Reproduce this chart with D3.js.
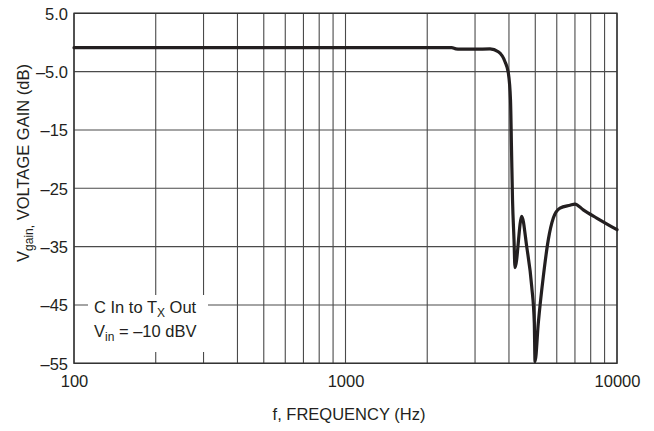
<!DOCTYPE html>
<html>
<head>
<meta charset="utf-8">
<script src="https://cdn.jsdelivr.net/npm/d3@7"></script>
<style>
  html, body { margin: 0; padding: 0; background: #fff; }
  svg text { font-family: "Liberation Sans", Arial, Helvetica, sans-serif; fill: #231f20; }
</style>
</head>
<body>
<svg id="chart" width="654" height="431"></svg>
<script>
// ---- data ----
const freqHz = [100, 1000, 2000, 2462, 2550, 2641, 3000, 3406, 3654, 3868, 3978, 4053, 4088, 4123, 4175, 4210,
                4457, 4650, 4851, 4959, 4990, 5130, 5354, 5585, 5827, 6166, 6714, 7002, 7512, 8420, 10000];
const gainDb = [-0.9, -0.9, -0.9, -0.9, -1.1, -1.15, -1.15, -1.1, -1.6, -3.3, -5.2, -9.9, -18.4, -27.0, -33.8, -38.6,
                -29.8, -35.0, -41.8, -48.1, -54.7, -48.1, -40.1, -33.8, -30.1, -28.4, -27.9, -27.7, -28.7, -30.1, -32.1];

const yTickValues = [5, -5, -15, -25, -35, -45, -55];
const yTickLabels = ["5.0", "\u20135.0", "\u201315", "\u201325", "\u201335", "\u201345", "\u201355"];
const xTickValues = [100, 1000, 10000];
const xTickLabels = ["100", "1000", "10000"];
const xGridValues = [100, 200, 300, 400, 500, 600, 700, 800, 900, 1000,
                     2000, 3000, 4000, 5000, 6000, 7000, 8000, 9000, 10000];

// ---- layout ----
const mLeft = 74, mRight = 617, mTop = 13.3, mBottom = 363.3;
const svg = d3.select("#chart");
const x = d3.scaleLog().domain([100, 10000]).range([mLeft, mRight]);
const y = d3.scaleLinear().domain([-55, 5]).range([mBottom, mTop]);
const ink = "#231f20";
const fontSize = 16.5;

// grid
const grid = svg.append("g");
grid.selectAll("line.v").data(xGridValues).enter().append("line")
  .attr("x1", d => x(d)).attr("x2", d => x(d))
  .attr("y1", mTop).attr("y2", mBottom)
  .attr("stroke", "#4a4a4a").attr("stroke-width", 1.1);
grid.selectAll("line.h").data(yTickValues).enter().append("line")
  .attr("x1", mLeft).attr("x2", mRight)
  .attr("y1", d => y(d)).attr("y2", d => y(d))
  .attr("stroke", "#4a4a4a").attr("stroke-width", 1.1);

// annotation box (white background covering grid)
const ann = svg.append("g");
ann.append("rect").attr("x", 88).attr("y", 295).attr("width", 120).attr("height", 57).attr("fill", "#fff");
const t1 = ann.append("text").attr("x", 94).attr("y", 313).attr("font-size", fontSize);
t1.append("tspan").text("C In to T");
t1.append("tspan").attr("font-size", 12).attr("dy", 4).text("X");
t1.append("tspan").attr("dy", -4).text(" Out");
const t2 = ann.append("text").attr("x", 94).attr("y", 337).attr("font-size", fontSize);
t2.append("tspan").text("V");
t2.append("tspan").attr("font-size", 12).attr("dy", 4).text("in");
t2.append("tspan").attr("dy", -4).text(" = \u201310 dBV");

// frame
svg.append("rect").attr("x", mLeft).attr("y", mTop).attr("width", mRight - mLeft).attr("height", mBottom - mTop)
  .attr("fill", "none").attr("stroke", "#333").attr("stroke-width", 1.4);

// axes (labels only)
const yAxis = d3.axisLeft(y).tickValues(yTickValues)
  .tickFormat((d, i) => yTickLabels[i]).tickSize(0).tickPadding(6);
const gy = svg.append("g").attr("transform", `translate(${mLeft},0)`).call(yAxis);
gy.select(".domain").remove();
gy.selectAll("text").attr("font-size", fontSize).attr("dy", "0.36em")
  .attr("font-family", "Liberation Sans, Arial, sans-serif").attr("fill", ink);

const xAxis = d3.axisBottom(x).tickValues(xTickValues)
  .tickFormat((d, i) => xTickLabels[i]).tickSize(0).tickPadding(12);
const gx = svg.append("g").attr("transform", `translate(0,${mBottom})`).call(xAxis);
gx.select(".domain").remove();
gx.selectAll("text").attr("font-size", fontSize)
  .attr("font-family", "Liberation Sans, Arial, sans-serif").attr("fill", ink);

// curve
const line = d3.line().x((d, i) => x(freqHz[i])).y(d => y(d)).curve(d3.curveMonotoneX);
svg.append("path").datum(gainDb).attr("d", line)
  .attr("fill", "none").attr("stroke", ink).attr("stroke-width", 3.2)
  .attr("stroke-linejoin", "round").attr("stroke-linecap", "round");

// axis titles
svg.append("text").attr("x", 349).attr("y", 420).attr("text-anchor", "middle")
  .attr("font-size", fontSize).text("f, FREQUENCY (Hz)");

const yt = svg.append("text").attr("transform", "translate(29,163) rotate(-90)")
  .attr("text-anchor", "middle").attr("font-size", fontSize);
yt.append("tspan").text("V");
yt.append("tspan").attr("font-size", 12).attr("dy", 4).text("gain,");
yt.append("tspan").attr("dy", -4).text("  VOLTAGE GAIN (dB)");
</script>
</body>
</html>
